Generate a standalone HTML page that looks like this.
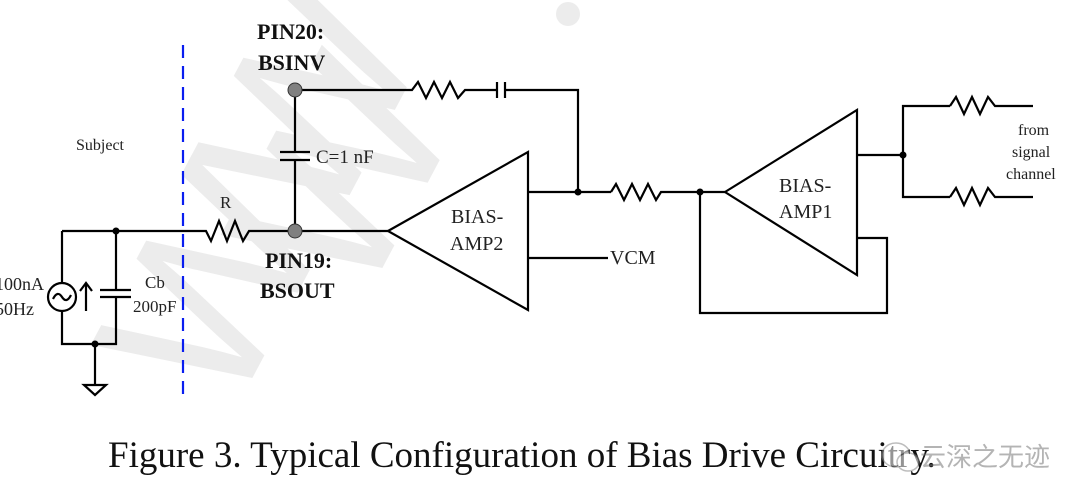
<!DOCTYPE html>
<html><head><meta charset="utf-8"><style>
html,body{margin:0;padding:0;background:#fff;width:1080px;height:504px;overflow:hidden}
svg{display:block}
</style></head><body>
<svg width="1080" height="504" viewBox="0 0 1080 504" xmlns="http://www.w3.org/2000/svg" font-family="'Liberation Serif', serif">
<!-- watermark -->
<g fill="#ececec" font-family="'Liberation Sans',sans-serif">
<text x="0" y="0" font-size="230" transform="translate(230,420) rotate(-62)" letter-spacing="-10">WW</text>
<text x="0" y="0" font-size="230" transform="translate(360,310) rotate(-62)">W</text>
<circle cx="568" cy="14" r="12"/>
</g>
<g stroke="#000" stroke-width="2.2" fill="none">
<polyline points="62,231 200,231"/>
<polyline points="62,231 62,283"/>
<polyline points="62,311 62,344 116,344 116,298"/>
<polyline points="116,231 116,290"/>
<line x1="100" y1="290" x2="131" y2="290"/>
<line x1="100" y1="297" x2="131" y2="297"/>
<line x1="95" y1="344" x2="95" y2="385"/>
<polygon points="84,385 106,385 95,395"/>
<circle cx="62" cy="297" r="14"/>
<path d="M53,299 q4.5,-9 9,-2 t9,-2"/>
<line x1="86" y1="311" x2="86" y2="284"/>
<polyline points="80,291 86,283 92,291"/>
<polyline points="200,231 206,231 211,241 219,221 227,241 235,221 243,241 249,231 295,231"/>
<line x1="295" y1="231" x2="388" y2="231"/>
<line x1="295" y1="90" x2="295" y2="152"/>
<line x1="295" y1="160" x2="295" y2="231"/>
<line x1="280" y1="152" x2="310" y2="152"/>
<line x1="280" y1="160" x2="310" y2="160"/>
<polyline points="295,90 412,90 418,82 426,98 434,82 442,98 450,82 458,98 465,90 497,90"/>
<line x1="497" y1="82" x2="497" y2="98"/>
<line x1="505" y1="82" x2="505" y2="98"/>
<polyline points="505,90 578,90 578,192"/>
<polygon points="388,231 528,152 528,310"/>
<line x1="528" y1="192" x2="611" y2="192"/>
<polyline points="611,192 616,184 624,200 632,184 640,200 648,184 656,200 661,192 725,192"/>
<line x1="528" y1="258" x2="608" y2="258"/>
<polygon points="725,192 857,110 857,275"/>
<polyline points="857,238 887,238 887,313 700,313 700,192"/>
<line x1="857" y1="155" x2="903" y2="155"/>
<polyline points="950,106 903,106 903,197 950,197"/>
<polyline points="950,106 956,97 964,114 972,97 980,114 988,97 995,106 1033,106"/>
<polyline points="950,197 956,188 964,205 972,188 980,205 988,188 995,197 1033,197"/>
</g>
<g fill="#000">
<circle cx="116" cy="231" r="3.5"/><circle cx="95" cy="344" r="3.5"/>
<circle cx="578" cy="192" r="3.5"/><circle cx="700" cy="192" r="3.5"/><circle cx="903" cy="155" r="3.5"/>
</g>
<circle cx="295" cy="90" r="7" fill="#808080" stroke="#333" stroke-width="1"/>
<circle cx="295" cy="231" r="7" fill="#808080" stroke="#333" stroke-width="1"/>
<line x1="183" y1="45" x2="183" y2="398" stroke="#0a1ef0" stroke-width="2.2" stroke-dasharray="13,8"/>
<g font-size="16" fill="#222">
<text x="76" y="150">Subject</text>
<text x="220" y="208" font-size="17">R</text>
<text x="-5" y="290" font-size="18">100nA</text>
<text x="-5" y="315" font-size="18">50Hz</text>
<text x="145" y="288" font-size="17">Cb</text>
<text x="133" y="312" font-size="17">200pF</text>
<text x="316" y="163" font-size="19">C=1 nF</text>
<text x="451" y="223" font-size="20">BIAS-</text>
<text x="450" y="250" font-size="20">AMP2</text>
<text x="610" y="264" font-size="20">VCM</text>
<text x="779" y="192" font-size="20">BIAS-</text>
<text x="779" y="218" font-size="20">AMP1</text>
<text x="1018" y="135" font-size="16">from</text>
<text x="1012" y="157" font-size="16">signal</text>
<text x="1006" y="179" font-size="16">channel</text>
</g>
<g font-size="22" font-weight="bold" fill="#111">
<text x="257" y="39">PIN20:</text>
<text x="258" y="70">BSINV</text>
<text x="265" y="268">PIN19:</text>
<text x="260" y="298">BSOUT</text>
</g>
<text x="108" y="467" font-size="37" fill="#111">Figure 3. Typical Configuration of Bias Drive Circuitry.</text>
<g opacity="0.55">
<ellipse cx="896" cy="455" rx="14" ry="12" fill="#fff" stroke="#888" stroke-width="1.5"/>
<ellipse cx="908" cy="462" rx="11" ry="9" fill="#fff" stroke="#888" stroke-width="1.5"/>
<text x="920" y="466" font-size="26" fill="#777" font-family="'Liberation Sans','Noto Sans CJK SC',sans-serif">云深之无迹</text>
</g>
</svg>
</body></html>
